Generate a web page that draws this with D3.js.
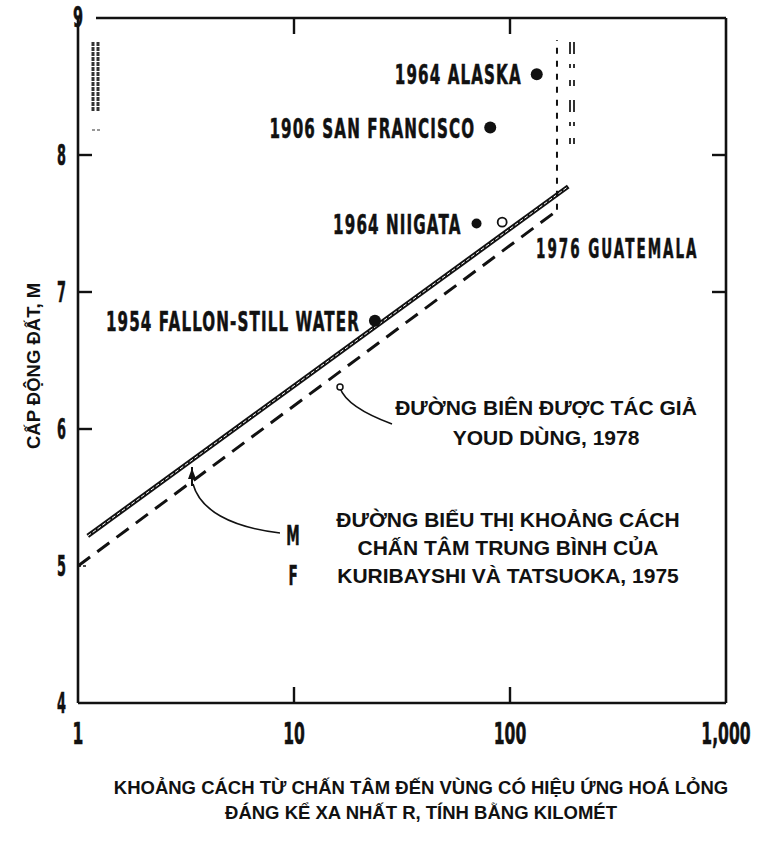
<!DOCTYPE html>
<html>
<head>
<meta charset="utf-8">
<title>Cấp động đất theo khoảng cách hoá lỏng</title>
<script src="https://cdn.jsdelivr.net/npm/d3@7"></script>
<style>
  body { margin: 0; background: #fff; }
  .tw { font-family: "DejaVu Sans", sans-serif; font-weight: bold; fill: #111; stroke: #111; stroke-width: 0.6px; }
  .ar { font-family: "Liberation Sans", Arial, sans-serif; font-weight: bold; fill: #111; }
</style>
</head>
<body>
<script>
// --- dữ liệu ---
var xTicks = [1, 10, 100, 1000];
var xTickLabels = ["1", "10", "100", "1,000"];
var yTicks = [4, 5, 6, 7, 8, 9];

// đường biên Youd 1978 (nét liền đôi)
var youdLine = [[1.11, 5.22], [186, 7.77]];
// đường Kuribayashi & Tatsuoka 1975 (nét đứt)
var kuriLine = [[1.0, 5.0], [167, 7.6]];
// đoạn đứng giới hạn trên
var boundLine = [[165, 7.6], [165, 8.84]];

var eventNames = ["1964 ALASKA", "1906 SAN FRANCISCO", "1964 NIIGATA", "1954 FALLON-STILL WATER"];
var eventR = [133, 81, 70, 23.7];
var eventM = [8.59, 8.2, 7.5, 6.79];
var niigataOpenR = 92, niigataOpenM = 7.51;

var width = 783, height = 851;
var svg = d3.select("body").append("svg")
    .attr("width", width).attr("height", height);

var x = d3.scaleLog().domain([1, 1000]).range([78, 726]);
var y = d3.scaleLinear().domain([4, 9]).range([703, 18]);

// chữ kiểu máy chữ hẹp
function narrow(g, px, py, txt, size, sx, anchor, spacing) {
  return g.append("text").attr("class", "tw")
    .attr("transform", "translate(" + px + "," + py + ") scale(" + sx + ",1)")
    .attr("text-anchor", anchor || "start")
    .style("font-size", size + "px")
    .style("letter-spacing", (spacing || 0) + "px")
    .text(txt);
}

// khung
var frame = svg.append("g").attr("stroke", "#111").attr("stroke-width", 2.6).attr("fill", "none");
frame.append("line").attr("x1", x(1)).attr("x2", x(1)).attr("y1", y(9)).attr("y2", y(4));
frame.append("line").attr("x1", x(1)).attr("x2", x(1000)).attr("y1", y(4)).attr("y2", y(4));
frame.append("line").attr("x1", x(1000)).attr("x2", x(1000)).attr("y1", y(9)).attr("y2", y(4));
frame.append("line").attr("x1", x(1) + 18).attr("x2", x(1000)).attr("y1", y(9)).attr("y2", y(9));

// vạch chia
var ticks = svg.append("g").attr("stroke", "#111").attr("stroke-width", 2.4);
ticks.selectAll(".tb").data([10, 100]).enter().append("line")
    .attr("x1", d => x(d)).attr("x2", d => x(d)).attr("y1", y(4)).attr("y2", y(4) - 16);
ticks.selectAll(".tt").data([10, 100]).enter().append("line")
    .attr("x1", d => x(d)).attr("x2", d => x(d)).attr("y1", y(9)).attr("y2", y(9) + 16);
ticks.selectAll(".tl").data([6, 7, 8]).enter().append("line")
    .attr("x1", x(1)).attr("x2", x(1) + 14).attr("y1", d => y(d)).attr("y2", d => y(d));
ticks.selectAll(".tr").data([7, 8]).enter().append("line")
    .attr("x1", x(1000)).attr("x2", x(1000) - 14).attr("y1", d => y(d)).attr("y2", d => y(d));
ticks.append("line").attr("x1", x(1)).attr("x2", x(1) + 10)
    .attr("y1", y(5)).attr("y2", y(5)).attr("stroke-dasharray", "3,2").attr("stroke-width", 1.5);

// vết mờ trên bản quét
var marks = svg.append("g").attr("stroke", "#333").attr("fill", "none");
[93, 98].forEach(function (px) {
  marks.append("line").attr("x1", px).attr("x2", px).attr("y1", 42).attr("y2", 112)
      .attr("stroke-width", 3).attr("stroke-dasharray", "4,1");
});
marks.append("line").attr("x1", 92).attr("x2", 100).attr("y1", 130).attr("y2", 130)
    .attr("stroke-width", 1.2).attr("stroke-dasharray", "3,2");
[570, 574].forEach(function (px) {
  marks.append("line").attr("x1", px).attr("x2", px).attr("y1", 42).attr("y2", 150)
      .attr("stroke-width", 2).attr("stroke-dasharray", "12,10,4,12,6,14");
});

// nhãn trục
xTicks.forEach(function (d, i) {
  narrow(svg, x(d), y(4) + 41, xTickLabels[i], 30, 0.52, "middle");
});
yTicks.forEach(function (d) {
  if (d === 9) narrow(svg, x(1), y(d) + 9, d, 29, 0.5, "middle");
  else narrow(svg, x(1) - 12, y(d) + 10, d, 28, 0.46, "end");
});

// đường giới hạn
var line = d3.line().x(d => x(d[0])).y(d => y(d[1]));
svg.append("path").attr("d", line(youdLine))
    .attr("stroke", "#111").attr("stroke-width", 4.5).attr("fill", "none");
svg.append("path").attr("d", line(youdLine))
    .attr("stroke", "#fff").attr("stroke-width", 1).attr("stroke-dasharray", "4,2").attr("fill", "none");
svg.append("path").attr("d", line(kuriLine))
    .attr("stroke", "#111").attr("stroke-width", 3).attr("stroke-dasharray", "15,9").attr("fill", "none");
svg.append("path").attr("d", line(boundLine))
    .attr("stroke", "#111").attr("stroke-width", 2).attr("stroke-dasharray", "6,7").attr("fill", "none");

// điểm động đất
svg.selectAll(".ev").data(eventR).enter().append("circle")
    .attr("cx", d => x(d)).attr("cy", (d, i) => y(eventM[i]))
    .attr("r", (d, i) => i === 2 ? 5 : 6).attr("fill", "#111");
svg.append("circle").attr("cx", x(niigataOpenR)).attr("cy", y(niigataOpenM))
    .attr("r", 4.5).attr("fill", "#fff").attr("stroke", "#111").attr("stroke-width", 1.8);

eventNames.forEach(function (d, i) {
  narrow(svg, x(eventR[i]) - 15, y(eventM[i]) + 10, d, 27, 0.56, "end", 2);
});
narrow(svg, 536, y(7.5) + 34, "1976 GUATEMALA", 27, 0.5, "start", 4);

// chú thích
svg.append("path")
    .attr("d", "M392,424 C365,414 345,402 340,388")
    .attr("stroke", "#111").attr("stroke-width", 1.6).attr("fill", "none");
svg.append("circle").attr("cx", 340).attr("cy", 387).attr("r", 3)
    .attr("fill", "#fff").attr("stroke", "#111").attr("stroke-width", 1.5);
svg.append("path")
    .attr("d", "M280,533 C230,527 200,510 193,484")
    .attr("stroke", "#111").attr("stroke-width", 1.6).attr("fill", "none");
svg.append("path").attr("d", "M192,467 L192,486")
    .attr("stroke", "#111").attr("stroke-width", 2);
svg.append("path").attr("d", "M188,479 L192,468 L196,479 Z").attr("fill", "#111");

narrow(svg, 293, 545, "M", 27, 0.5, "middle");
narrow(svg, 293, 585, "F", 27, 0.5, "middle");

var note1 = ["ĐƯỜNG BIÊN ĐƯỢC TÁC GIẢ", "YOUD DÙNG, 1978"];
var note2 = ["ĐƯỜNG BIỂU THỊ KHOẢNG CÁCH", "CHẤN TÂM TRUNG BÌNH CỦA", "KURIBAYSHI VÀ TATSUOKA, 1975"];
svg.selectAll(".n1").data(note1).enter().append("text")
    .attr("class", "ar").attr("text-anchor", "middle")
    .attr("x", 546).attr("y", (d, i) => 415 + i * 30)
    .style("font-size", "21px").text(d => d);
svg.selectAll(".n2").data(note2).enter().append("text")
    .attr("class", "ar").attr("text-anchor", "middle")
    .attr("x", 508).attr("y", (d, i) => 527 + i * 28)
    .style("font-size", "21px").text(d => d);

// tiêu đề trục
svg.append("text").attr("class", "ar").attr("text-anchor", "middle")
    .attr("transform", "translate(40,366) rotate(-90)")
    .style("font-size", "18.5px").text("CẤP ĐỘNG ĐẤT, M");
var xTitle = ["KHOẢNG CÁCH TỪ CHẤN TÂM ĐẾN VÙNG CÓ HIỆU ỨNG HOÁ LỎNG", "ĐÁNG KỂ XA NHẤT R, TÍNH BẰNG KILOMÉT"];
svg.selectAll(".xt").data(xTitle).enter().append("text")
    .attr("class", "ar").attr("text-anchor", "middle")
    .attr("x", 421).attr("y", (d, i) => 794 + i * 25)
    .style("font-size", "18.5px").text(d => d);
</script>
</body>
</html>
